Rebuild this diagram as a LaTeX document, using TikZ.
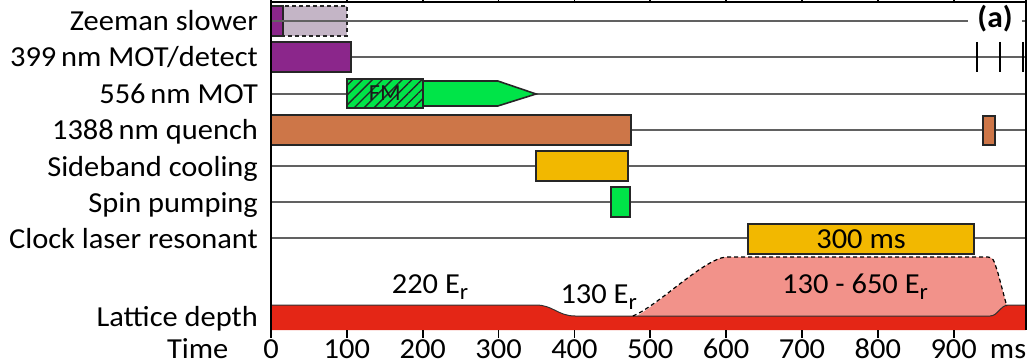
\documentclass[tikz,border=0pt]{standalone}
\usepackage{fontspec}
\setmainfont{Carlito}[FakeStretch=1.05]
\usetikzlibrary{patterns.meta}
\definecolor{zeemanpurple}{RGB}{139,38,139}
\definecolor{zeemanghost}{RGB}{196,181,198}
\definecolor{motgreen}{RGB}{0,228,72}
\definecolor{quenchbrown}{RGB}{205,118,72}
\definecolor{coolorange}{RGB}{242,184,0}
\definecolor{latticered}{RGB}{228,38,22}
\definecolor{latticepink}{RGB}{242,146,138}
\newcommand{\Er}{E\raisebox{-0.22em}{\scalebox{0.78}{r}}}
\tikzset{
  rowline/.style={draw=black!62, line width=1.2pt},
  axisline/.style={draw=black, line width=1.8pt},
  barbox/.style={draw=black!85, line width=1.6pt},
  detecttick/.style={draw=black, line width=1.8pt},
  rowlabel/.style={anchor=base east, inner sep=0pt,
                   font=\fontsize{29}{31}\selectfont},
  ticklabel/.style={anchor=base, inner sep=0pt,
                    font=\fontsize{29}{31}\selectfont},
  depthlabel/.style={anchor=base, inner sep=0pt,
                     font=\fontsize{29}{31}\selectfont}
}

\begin{document}
\begin{tikzpicture}[x=0.7585pt, y=-1pt]
  \useasboundingbox (-357.3,0) rectangle (998.0,363);

  %% row guide lines and labels
  \foreach \y/\id/\txt in {57/blue/{399\,nm MOT/detect},
      94/green/{556\,nm MOT}, 130/quench/{1388\,nm quench},
      166/sideband/{Sideband cooling}, 202/spin/{Spin pumping},
      238/clock/{Clock laser resonant}} {
    \draw[rowline] (0,\y) -- (995,\y);
    \node[rowlabel] (lbl\id) at (-17,\y+10) {\txt};
  }
  \node[rowlabel] (lblzeeman) at (-17,31) {Zeeman slower};
  \node[rowlabel] (lbllattice) at (-17,326) {Lattice depth};

  %% Zeeman slower
  \draw[barbox, fill=zeemanghost, dashed, dash pattern=on 4pt off 3pt]
    (15.8,6) rectangle (100,36);
  \draw[barbox, fill=zeemanpurple] (0,6) rectangle (15.8,36);
  \draw[rowline] (0,21) -- (995,21);
  \node[font=\fontsize{30}{32}\selectfont\bfseries, fill=white,
        inner xsep=9pt, inner ysep=2pt] (panel) at (954.5,19) {(a)};

  %% 399 nm MOT / detection pulses
  \draw[barbox, fill=zeemanpurple] (0,42) rectangle (105.5,72);
  \foreach \t in {930.8,961.1,991.4}
    \draw[detecttick] (\t,42) -- (\t,72);

  %% 556 nm MOT with FM part
  \draw[barbox, fill=motgreen]
    (200,81) -- (299,81) -- (349.4,94) -- (299,106) -- (200,106) -- cycle;
  \fill[motgreen] (100,79) rectangle (200,108);
  \fill[pattern={Lines[angle=45, distance=7pt, line width=1.4pt]},
        pattern color=black!85] (100,79) rectangle (200,108);
  \draw[barbox] (100,79) rectangle (200,108);
  \node[font=\fontsize{23}{25}\selectfont, text=black!90, inner sep=0pt,
        anchor=base] (fm) at (150,101) {FM};

  %% 1388 nm quench
  \draw[barbox, fill=quenchbrown] (0,115) rectangle (474.6,145);
  \draw[barbox, fill=quenchbrown] (938.7,116) rectangle (954.5,145);

  %% sideband cooling, spin pumping, clock
  \draw[barbox, fill=coolorange] (349.4,151) rectangle (470.7,181);
  \draw[barbox, fill=motgreen] (448,187) rectangle (473,217);
  \draw[barbox, fill=coolorange] (628.9,224) rectangle (926.8,254);
  \node[depthlabel] (clockdur) at (777.9,248) {300 ms};

  %% lattice depth
  \fill[latticepink] (477,318) .. controls (510,306) and (570,259) .. (600,257)
    -- (945,257) .. controls (952,258) .. (958,272) -- (970,306)
    -- (970,318) -- cycle;
  \fill[latticered] (0,330) -- (0,305) -- (349,305)
    .. controls (372,305) and (378,316) .. (401,316) -- (948,316)
    .. controls (958,316) and (962,305) .. (972,305) -- (995,305)
    -- (995,330) -- cycle;
  \draw[draw=black!80, line width=1pt] (0,305) -- (349,305)
    .. controls (372,305) and (378,316) .. (401,316) -- (948,316)
    .. controls (958,316) and (962,305) .. (972,305) -- (995,305);
  \draw[dashed, dash pattern=on 4pt off 3pt, line width=1.2pt]
    (477,316) .. controls (510,306) and (570,259) .. (600,257)
    -- (945,257) .. controls (952,258) .. (958,272) -- (970,306);
  \node[depthlabel] (deep) at (209.6,293) {220 \Er};
  \node[depthlabel] (shallow) at (432,303) {130 \Er};
  \node[depthlabel] (ramp) at (770,293) {130 - 650 \Er};

  %% axes
  \draw[axisline] (0,0) -- (0,338);
  \draw[axisline] (995,0) -- (995,330);
  \draw[axisline] (0,2) -- (995,2);
  \foreach \t in {100,200,...,900} {
    \draw[axisline] (\t,0) -- (\t,3);
    \draw[axisline] (\t,330) -- (\t,338);
    \node[ticklabel] (tick\t) at (\t,358) {\t};
  }
  \node[ticklabel] (tick0) at (0,358) {0};
  \node[ticklabel] (unit) at (971.7,358) {ms};
  \node[rowlabel] (lbltime) at (-56,358) {Time};

\end{tikzpicture}
\end{document}
